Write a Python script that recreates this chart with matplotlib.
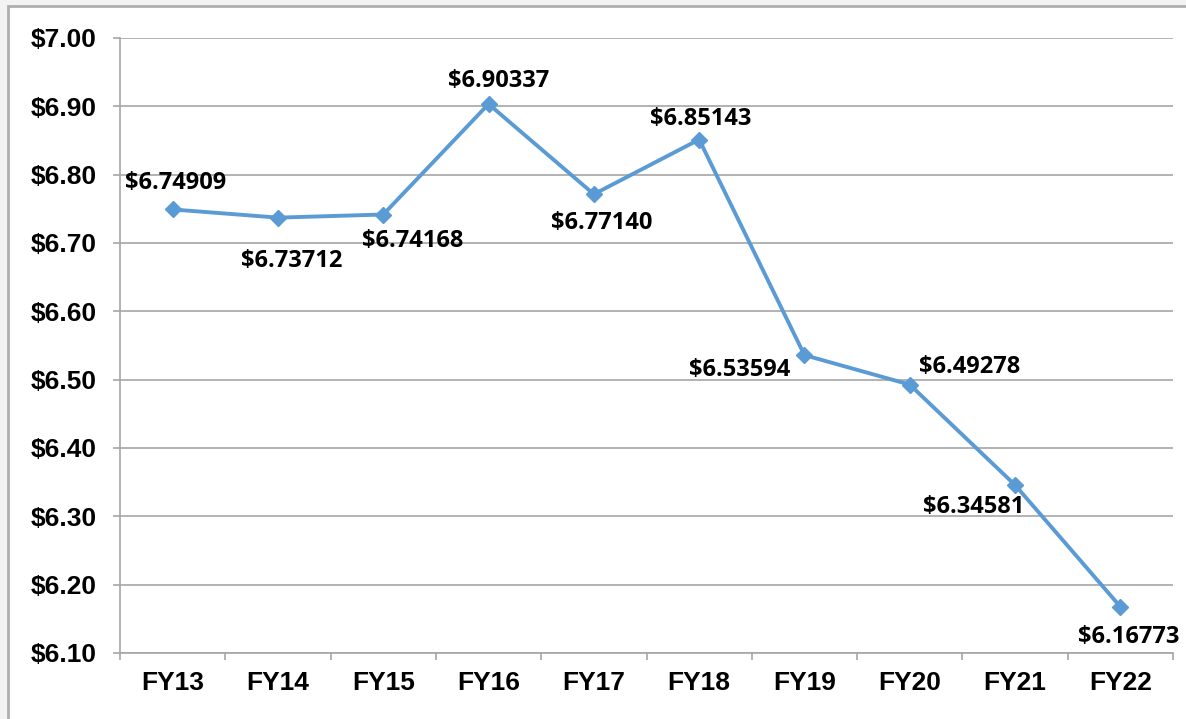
#!/usr/bin/env python
# -*- coding: utf-8 -*-
import matplotlib
matplotlib.use("Agg")
from matplotlib import pyplot as plt
from matplotlib.patches import Rectangle
from matplotlib.ticker import FixedLocator, FuncFormatter

years  = ["FY13", "FY14", "FY15", "FY16", "FY17", "FY18", "FY19", "FY20", "FY21", "FY22"]
values = [6.74909, 6.73712, 6.74168, 6.90337, 6.77140, 6.85143, 6.53594, 6.49278, 6.34581, 6.16773]
# label offsets in pixels (dx, dy) from each point
label_offsets = [(3, 26), (14, -43), (29, -26), (10, 23), (8, -29),
                 (2, 21), (-65, -15), (60, 18), (-41, -22), (8, -30)]
y_ticks = [6.10, 6.20, 6.30, 6.40, 6.50, 6.60, 6.70, 6.80, 6.90, 7.00]

W, H = 1186, 719
fig = plt.figure(figsize=(W / 100, H / 100), dpi=100)
fig.patch.set_facecolor("#F3F3F3")
# white chart frame with gray border (runs off the right/bottom edges)
fig.patches.append(Rectangle((8 / W, -0.05), 1.1, 1 - 6 / H + 0.05,
                             transform=fig.transFigure, facecolor="white",
                             edgecolor="#AFAFAF", linewidth=2, zorder=-10))

ax = fig.add_axes([120 / W, 66 / H, (1173 - 120) / W, (653 - 38) / H], zorder=5)
ax.set_facecolor("none")

xs = list(range(len(years)))
ax.plot(xs, values, color="#5B9BD5", linewidth=2.8, marker="D", markersize=8.5,
        zorder=3, clip_on=False)

for x, v, (dx, dy) in zip(xs, values, label_offsets):
    ax.annotate("${:.5f}".format(v), (x, v), xytext=(dx, dy), textcoords="offset pixels",
                ha="center", va="center", fontsize=17, fontweight="bold",
                family="Open Sans", color="black", zorder=4)

ax.set_xlim(-0.5, len(years) - 0.5)
ax.set_ylim(6.10, 7.00)

ax.yaxis.set_major_locator(FixedLocator(y_ticks))
ax.yaxis.set_major_formatter(FuncFormatter(lambda v, _: "${:.2f}".format(v)))
ax.grid(axis="y", color="#A6A6A6", linewidth=1.2, zorder=1)
ax.set_axisbelow(True)

# category ticks between labels, labels at centers
ax.xaxis.set_major_locator(FixedLocator([i - 0.5 for i in range(len(years) + 1)]))
ax.xaxis.set_major_formatter(FuncFormatter(lambda v, _: ""))
ax.xaxis.set_minor_locator(FixedLocator(xs))
ax.set_xticklabels(years, minor=True)

for s in ["top", "right"]:
    ax.spines[s].set_visible(False)
for s in ["left", "bottom"]:
    ax.spines[s].set_color("#A6A6A6")
    ax.spines[s].set_linewidth(1.2)

ax.tick_params(axis="y", which="major", length=5, width=1.2, color="#A6A6A6",
               labelsize=19, pad=12)
ax.tick_params(axis="x", which="major", length=5, width=1.2, color="#A6A6A6")
ax.tick_params(axis="x", which="minor", length=0, labelsize=19, pad=13)
for lab in ax.get_yticklabels() + ax.get_xticklabels(minor=True):
    lab.set_fontweight("bold")
    lab.set_family("Liberation Sans")

fig.savefig("out.png", dpi=100, facecolor=fig.get_facecolor())
